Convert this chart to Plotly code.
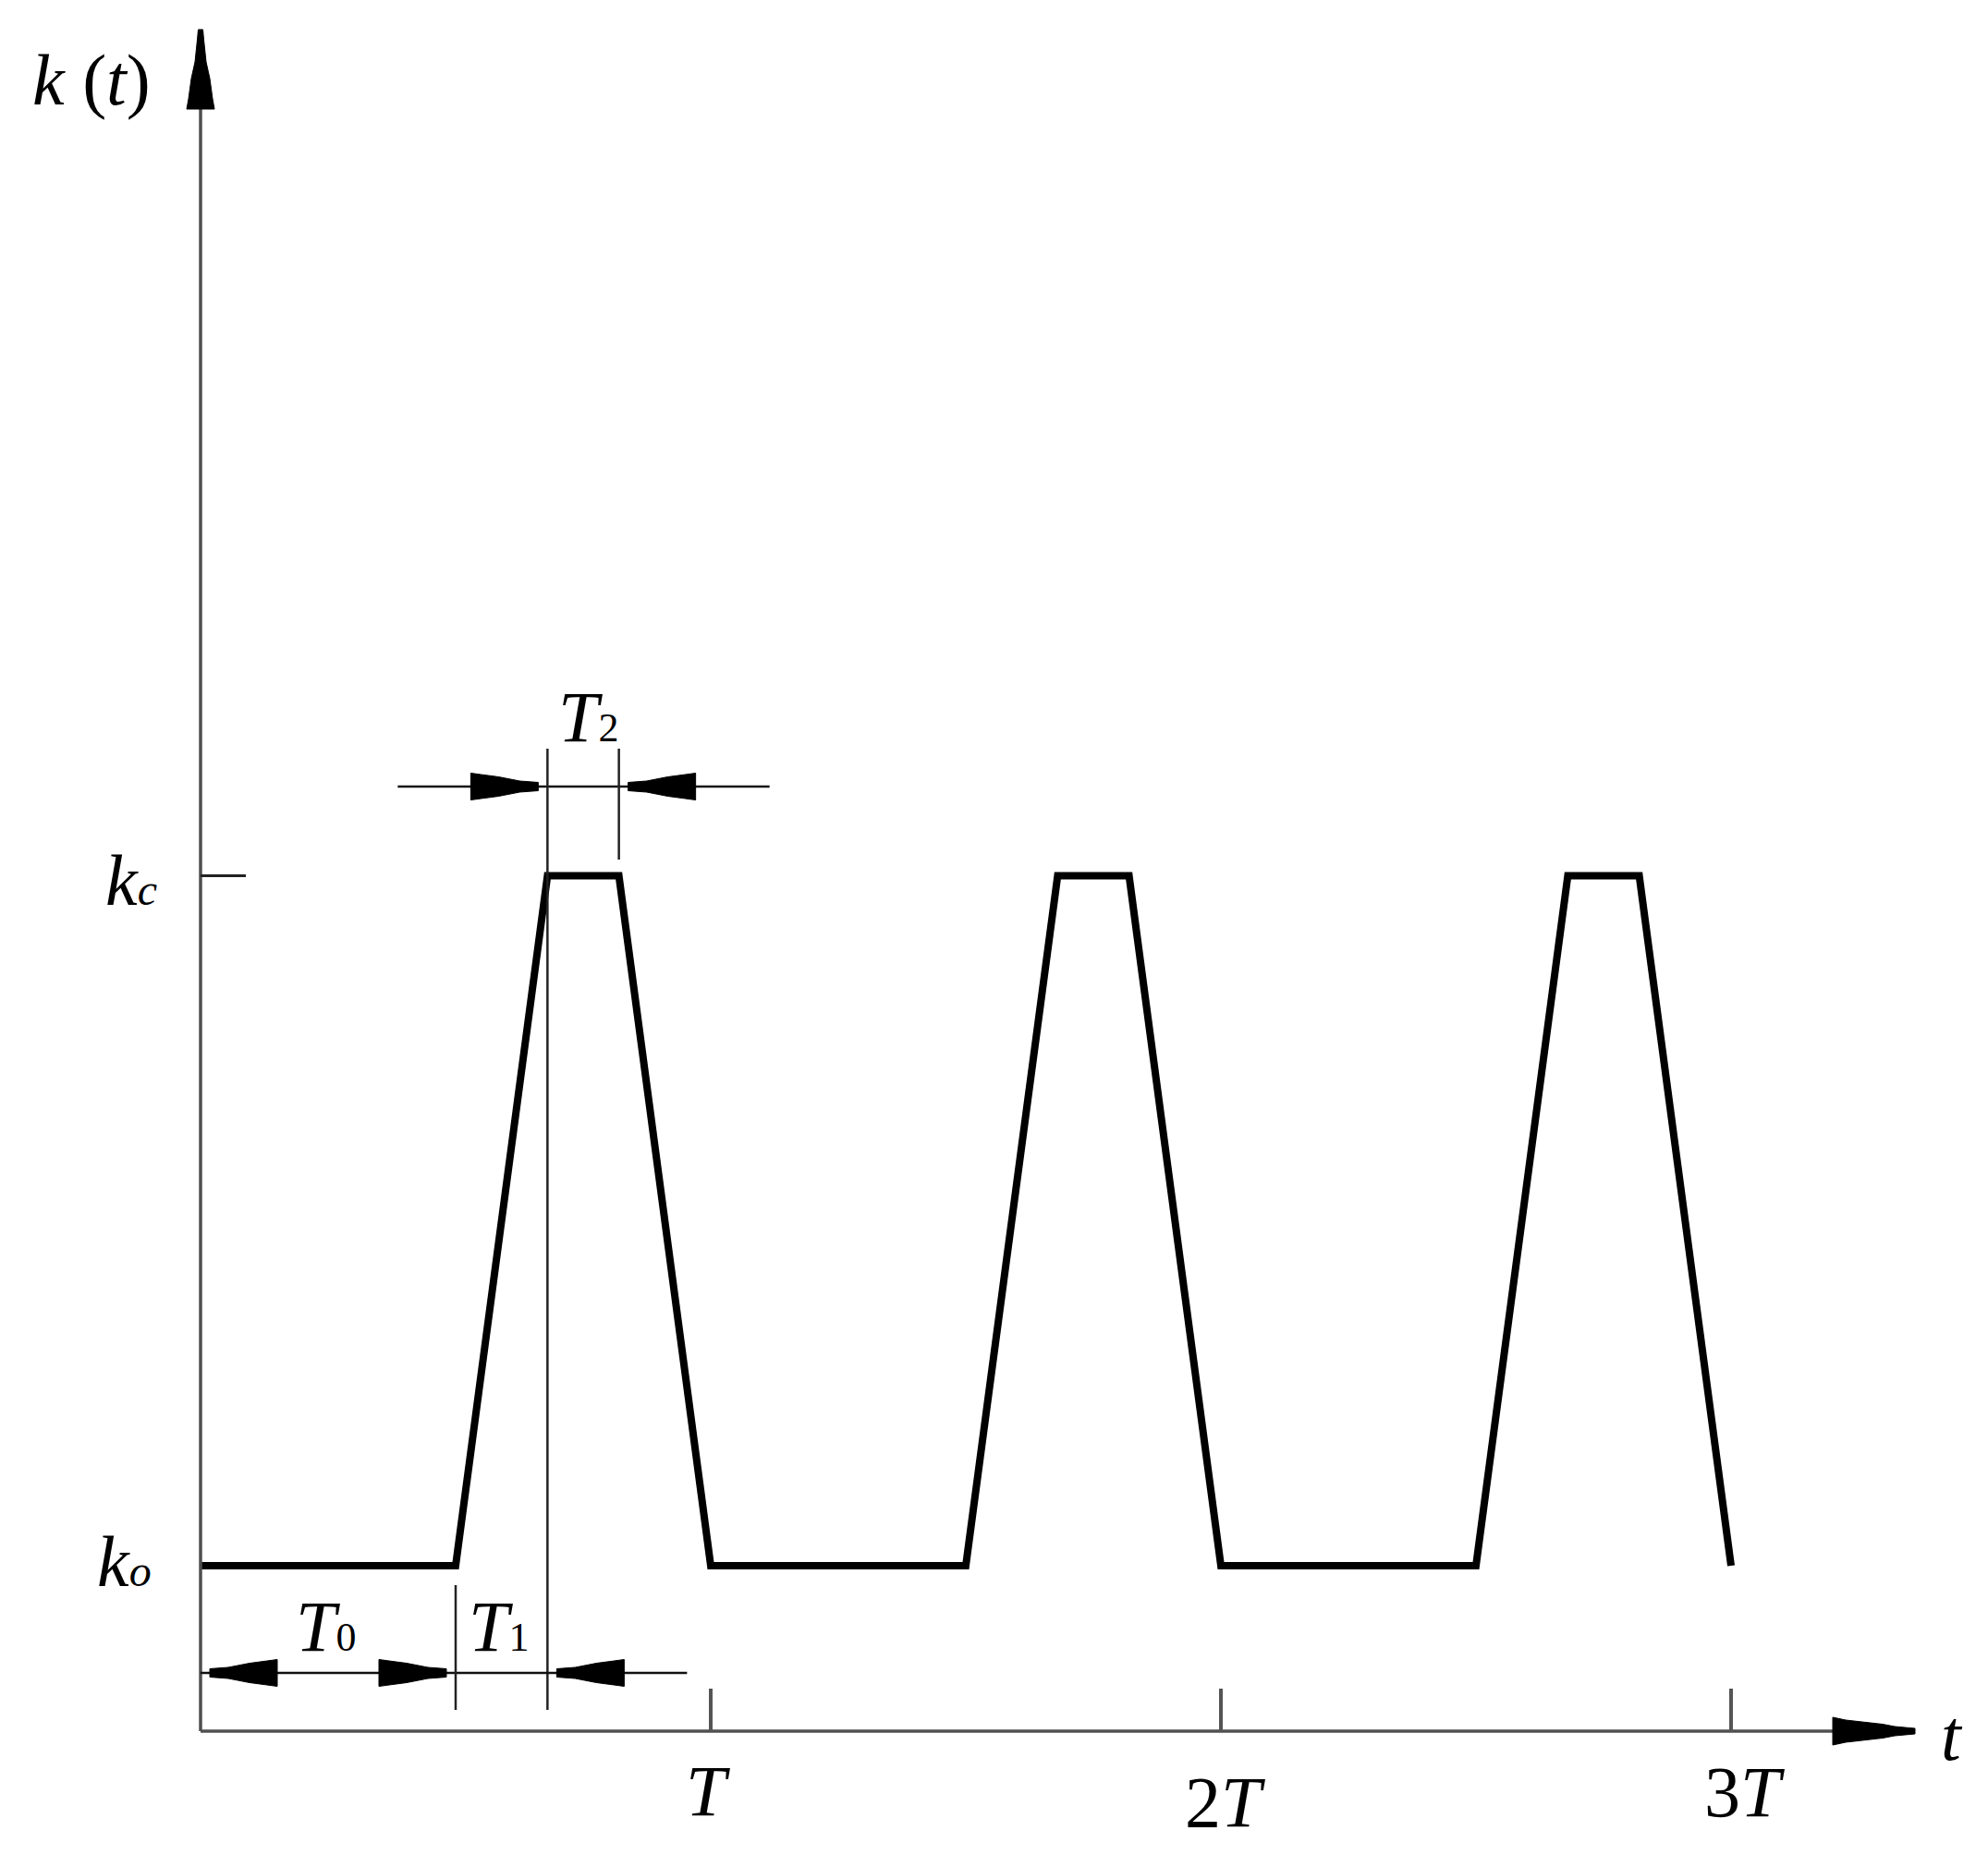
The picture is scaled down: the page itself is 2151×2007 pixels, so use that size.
import plotly.graph_objects as go

# ---------------- data ----------------
k_o = 1.0          # base stiffness level
k_c = 5.17         # peak stiffness level
t_points = [0.00, 0.50, 0.68, 0.82, 1.00, 1.50, 1.68, 1.82, 2.00, 2.50, 2.68, 2.82, 3.00]
k_points = [k_o, k_o, k_c, k_c, k_o, k_o, k_c, k_c, k_o, k_o, k_c, k_c, k_o]
period_ticks = [1, 2, 3]
period_labels = ["<i>T</i>", "2<i>T</i>", "3<i>T</i>"]
t0_end = 0.50      # end of T0 segment
t1_end = 0.68      # end of T1 segment (rise)
t2_end = 0.82      # end of T2 segment (plateau)

# ---------------- layout constants (pixels) ----------------
PAGE_OFF = 8                       # default body margin of the html page
W, H = 2151 - PAGE_OFF, 2007 - PAGE_OFF
X0, Y0 = 217, 1873     # page pixel of the origin
SX, SY = 552, 179      # pixels per unit of t / k

def xd(px):  # page pixel x -> data
    return (px - X0) / SX

def yd(py):  # page pixel y -> data
    return (Y0 - py) / SY

def dxp(p):
    return p / SX

def dyp(p):
    return p / SY

FONT = "Liberation Serif"
FS = 78
AXIS_COL = "#505050"

shapes = []

def line(x0, y0, x1, y1, color, width):
    shapes.append(dict(type="line", xref="x", yref="y", x0=x0, y0=y0, x1=x1, y1=y1,
                       line=dict(color=color, width=width), layer="above"))

def arrow(tx, ty, direction, profile):
    side_a, side_b = [], []
    for d, w in profile:
        if direction == "right":
            side_a.append((tx - dxp(d), ty + dyp(w)))
            side_b.append((tx - dxp(d), ty - dyp(w)))
        elif direction == "left":
            side_a.append((tx + dxp(d), ty + dyp(w)))
            side_b.append((tx + dxp(d), ty - dyp(w)))
        else:  # up
            side_a.append((tx - dxp(w), ty - dyp(d)))
            side_b.append((tx + dxp(w), ty - dyp(d)))
    pts = side_a + side_b[::-1]
    path = "M " + " L ".join(f"{x:.5f},{y:.5f}" for x, y in pts) + " Z"
    shapes.append(dict(type="path", xref="x", yref="y", path=path,
                       fillcolor="black", line=dict(color="black", width=1), layer="above"))

DIM_PROFILE = [(0, 4.5), (20, 6), (43, 10.5), (62, 13), (73, 14.5)]
Y_ARROW = [(0, 2.5), (11, 3.5), (35, 6), (53, 10), (75, 13), (86, 15)]
X_ARROW = [(0, 3), (22, 5), (35, 7.5), (75, 12), (89, 15)]

# ---- axes ----
y_tip = yd(32)
x_tip = xd(2072)
line(0, 0, 0, y_tip, AXIS_COL, 3.5)
line(0, 0, x_tip, 0, AXIS_COL, 3.5)
arrow(0, y_tip, "up", Y_ARROW)
arrow(x_tip, 0, "right", X_ARROW)

# ---- period ticks ----
for tp in period_ticks:
    line(tp, 0, tp, dyp(46), "#555555", 4)

# ---- k_c tick on y axis ----
line(0, k_c, dxp(49), k_c, "#222222", 3)

# ---- T2 dimension ----
gap = 10
lvl2 = yd(851)
line(t1_end - dxp(162), lvl2, t2_end + dxp(163), lvl2, "#111111", 2.5)
line(t1_end, yd(810), t1_end, yd(1850), "#222222", 2.5)
line(t2_end, yd(810), t2_end, yd(930), "#222222", 2.5)
arrow(t1_end - dxp(gap), lvl2, "right", DIM_PROFILE)
arrow(t2_end + dxp(gap), lvl2, "left", DIM_PROFILE)

# ---- T0 / T1 dimension ----
lvl0 = yd(1810)
line(0, lvl0, t1_end + dxp(151), lvl0, "#111111", 2.5)
line(t0_end, yd(1715), t0_end, yd(1850), "#222222", 2.5)
arrow(dxp(gap), lvl0, "left", DIM_PROFILE)
arrow(t0_end - dxp(gap), lvl0, "right", DIM_PROFILE)
arrow(t1_end + dxp(gap), lvl0, "left", DIM_PROFILE)

# ---------------- figure ----------------
fig = go.Figure()
fig.add_trace(go.Scatter(x=t_points, y=k_points, mode="lines",
                         line=dict(color="black", width=8), hoverinfo="skip"))

sub = lambda s, size=44: f"<span style='font-size:{size}px'>{s}</span>"

annotations = []

def label(text, x, y, xshift=0, yshift=0, xanchor="center", xref="x", yref="y"):
    annotations.append(dict(text=text, x=x, y=y, xref=xref, yref=yref, showarrow=False,
                            xanchor=xanchor, yanchor="middle", xshift=xshift, yshift=yshift,
                            font=dict(family=FONT, size=FS, color="black")))

# period labels
label(period_labels[0], period_ticks[0], 0, xshift=-3, yshift=-64)
label(period_labels[1], period_ticks[1], 0, xshift=4, yshift=-76)
label(period_labels[2], period_ticks[2], 0, xshift=14, yshift=-65)

# level labels
label("<i>k</i>" + sub("<i>c</i>", 48), xd(172), k_c, xanchor="right", yshift=-5)
label("<i>k</i>" + sub("<i>o</i>", 48), xd(166), k_o, xanchor="right", yshift=5)

# axis titles
label("<i>k</i> (<i>t</i>)", xd(99), yd(86))
label("<i>t</i>", xd(2112), yd(1877))

# dimension labels
label("<i>T</i>" + sub("0"), t0_end / 2, lvl0, xshift=-3, yshift=51)
label("<i>T</i>" + sub("1"), (t0_end + t1_end) / 2, lvl0, xshift=-3, yshift=51)
label("<i>T</i>" + sub("2"), (t1_end + t2_end) / 2, lvl2, xshift=5, yshift=76)

fig.update_layout(
    width=W, height=H,
    margin=dict(l=0, r=0, t=0, b=0, pad=0),
    paper_bgcolor="white", plot_bgcolor="white",
    showlegend=False,
    xaxis=dict(range=[xd(PAGE_OFF), xd(PAGE_OFF + W)], visible=False, fixedrange=True),
    yaxis=dict(range=[yd(PAGE_OFF + H), yd(PAGE_OFF)], visible=False, fixedrange=True),
    shapes=shapes,
    annotations=annotations,
)

fig.write_html("out.html")
